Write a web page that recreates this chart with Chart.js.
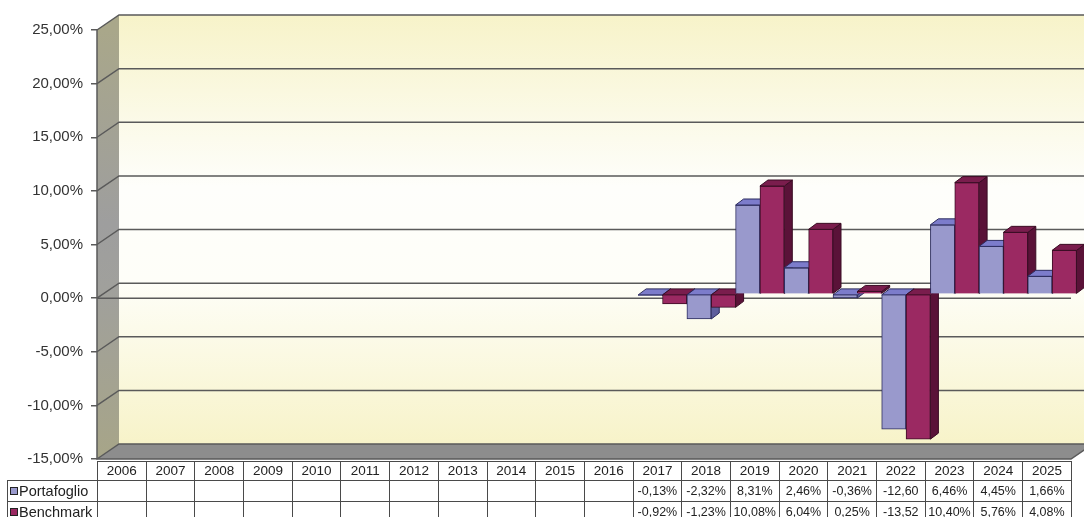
<!DOCTYPE html>
<html><head><meta charset="utf-8">
<script src="https://cdn.jsdelivr.net/npm/chart.js@4.4.1/dist/chart.umd.min.js"></script>
<style>
html,body{margin:0;padding:0;background:#fff;}
#wrap{position:relative;width:1084px;height:517px;overflow:hidden;}
#c{position:absolute;left:0;top:0;}
#tbl{position:absolute;border-collapse:collapse;table-layout:fixed;font-family:"Liberation Sans",Arial,sans-serif;color:#222;}
#tbl td{border:1px solid #4a4a4a;text-align:center;padding:0;white-space:nowrap;overflow:hidden;line-height:1;}
#tbl td.blank{border-top:none;border-left:none;}
#tbl tr.head td{font-size:13.5px;}
#tbl tr.val td{font-size:12.5px;}
#tbl tr.val td.lab{text-align:left;font-size:14.5px;padding-left:2px;}
.key{display:inline-block;width:6px;height:6px;border:1px solid #222;margin-right:1px;vertical-align:1px;}
</style></head>
<body><div id="wrap"><canvas id="c" width="1084" height="517"></canvas><table id="tbl"></table></div>
<script>
const years = ['2006','2007','2008','2009','2010','2011','2012','2013','2014','2015','2016','2017','2018','2019','2020','2021','2022','2023','2024','2025'];
const seriesNames = ['Portafoglio','Benchmark'];
const portafoglio = [null,null,null,null,null,null,null,null,null,null,null,-0.13,-2.32,8.31,2.46,-0.36,-12.60,6.46,4.45,1.66];
const benchmark = [null,null,null,null,null,null,null,null,null,null,null,-0.92,-1.23,10.08,6.04,0.25,-13.52,10.40,5.76,4.08];
const yMin = -15, yMax = 25, yStep = 5;

const frontColors = ['#9999CC','#9B2962'];
const faceColors = [
  {top:'#7C7CCB', side:'#5E5E9C', edge:'#2C2C5E'},
  {top:'#7A1D4D', side:'#5A1238', edge:'#3A0D24'}
];

const fmtAxis = v => v.toFixed(2).replace('.', ',') + '%';
const fmtCell = v => {
  if (v == null) return '';
  let s = v.toFixed(2).replace('.', ',') + '%';
  if (s.length > 6) s = s.slice(0, -1); // does not fit the cell, like the original
  return s;
};

const DX = 22, DY = -15;   // depth of walls
const BX = 5.5, BY = -4;   // bar row depth offset
const BDX = 8, BDY = -6;   // bar thickness

const threeD = {
  id: 'threeD',
  beforeDatasetsDraw(chart) {
    const ctx = chart.ctx;
    const {left: L, right: R, top: T, bottom: B} = chart.chartArea;
    const ys = chart.scales.y;
    ctx.save();
    // back wall
    let g = ctx.createLinearGradient(0, T + DY, 0, B + DY);
    g.addColorStop(0, '#F7F3C9');
    g.addColorStop(0.40, '#FEFEFB');
    g.addColorStop(0.62, '#FEFEF8');
    g.addColorStop(1, '#F7F3C9');
    ctx.fillStyle = g;
    ctx.fillRect(L + DX, T + DY, R - L, B - T);
    // side wall
    g = ctx.createLinearGradient(0, T, 0, B);
    g.addColorStop(0, '#A9A78A');
    g.addColorStop(0.45, '#9E9E9E');
    g.addColorStop(0.6, '#A0A09C');
    g.addColorStop(1, '#A7A588');
    ctx.fillStyle = g;
    ctx.beginPath();
    ctx.moveTo(L, T); ctx.lineTo(L + DX, T + DY); ctx.lineTo(L + DX, B + DY); ctx.lineTo(L, B); ctx.closePath();
    ctx.fill();
    // floor
    ctx.fillStyle = '#8D8D8D';
    ctx.beginPath();
    ctx.moveTo(L, B); ctx.lineTo(L + DX, B + DY); ctx.lineTo(R + DX, B + DY); ctx.lineTo(R, B); ctx.closePath();
    ctx.fill();
    // gridlines
    ctx.strokeStyle = '#5A5A5A';
    ctx.lineWidth = 1.5;
    ys.ticks.forEach(t => {
      const y = ys.getPixelForValue(t.value);
      ctx.beginPath();
      ctx.moveTo(L, y); ctx.lineTo(L + DX, y + DY); ctx.lineTo(R + DX, y + DY);
      ctx.stroke();
    });
    // front left edge & floor front edge
    ctx.beginPath(); ctx.moveTo(L, T); ctx.lineTo(L, B); ctx.lineTo(R, B); ctx.lineTo(R + DX, B + DY); ctx.stroke();
    // front zero line
    const y0 = ys.getPixelForValue(0);
    ctx.beginPath(); ctx.moveTo(L, y0); ctx.lineTo(R, y0); ctx.stroke();

    // bars (front face by Chart.js element, plus top & side faces)
    ctx.translate(BX, BY);
    const n = chart.data.labels.length;
    for (let i = 0; i < n; i++) {
      chart.data.datasets.forEach((ds, di) => {
        const v = ds.data[i];
        if (v == null) return;
        const el = chart.getDatasetMeta(di).data[i];
        el.draw(ctx);
        const {x, y, base, width} = el.getProps(['x', 'y', 'base', 'width'], true);
        const xl = x - width / 2, xr = x + width / 2;
        const top = Math.min(y, base), bot = Math.max(y, base);
        const c = faceColors[di];
        ctx.lineWidth = 1;
        ctx.strokeStyle = c.edge;
        // side face
        ctx.beginPath();
        ctx.moveTo(xr, top); ctx.lineTo(xr + BDX, top + BDY); ctx.lineTo(xr + BDX, bot + BDY); ctx.lineTo(xr, bot); ctx.closePath();
        ctx.fillStyle = c.side; ctx.fill(); ctx.stroke();
        // top face
        ctx.beginPath();
        ctx.moveTo(xl, top); ctx.lineTo(xr, top); ctx.lineTo(xr + BDX, top + BDY); ctx.lineTo(xl + BDX, top + BDY); ctx.closePath();
        ctx.fillStyle = c.top; ctx.fill(); ctx.stroke();
      });
    }
    ctx.restore();
    return false;
  }
};

const chart = new Chart(document.getElementById('c'), {
  type: 'bar',
  data: {
    labels: years,
    datasets: [
      {label: seriesNames[0], data: portafoglio, backgroundColor: frontColors[0], borderColor: faceColors[0].edge, borderWidth: 1},
      {label: seriesNames[1], data: benchmark, backgroundColor: frontColors[1], borderColor: faceColors[1].edge, borderWidth: 1}
    ]
  },
  options: {
    responsive: false,
    animation: false,
    devicePixelRatio: 1,
    datasets: {bar: {categoryPercentage: 1.0, barPercentage: 1.0}},
    layout: {padding: {left: 0, top: 30, right: 13, bottom: 58}},
    plugins: {legend: {display: false}, tooltip: {enabled: false}},
    scales: {
      x: {display: false},
      y: {
        min: yMin, max: yMax,
        afterFit: s => { s.width = 97; },
        border: {display: false},
        grid: {drawOnChartArea: false, drawTicks: true, tickLength: 6, color: '#5A5A5A', lineWidth: 1.5},
        ticks: {stepSize: yStep, padding: 8, color: '#333', font: {family: '"Liberation Sans", Arial, sans-serif', size: 15}, callback: v => fmtAxis(v)}
      }
    }
  },
  plugins: [threeD]
});

// data table under the chart, aligned to the category axis
(function buildTable() {
  const ca = chart.chartArea;
  const xs = chart.scales.x;
  const colW = xs.getPixelForValue(1) - xs.getPixelForValue(0);
  const tableLeft = 7;
  const tbl = document.getElementById('tbl');
  tbl.style.left = tableLeft + 'px';
  tbl.style.top = (ca.bottom + 2) + 'px';
  tbl.style.width = (ca.right - tableLeft) + 'px';
  let html = '<colgroup><col style="width:' + (ca.left - tableLeft) + 'px">';
  years.forEach(() => { html += '<col style="width:' + colW + 'px">'; });
  html += '</colgroup>';
  html += '<tr class="head" style="height:19px"><td class="blank"></td>' + years.map(y => '<td>' + y + '</td>').join('') + '</tr>';
  const series = [portafoglio, benchmark];
  series.forEach((s, si) => {
    html += '<tr class="val" style="height:21px"><td class="lab"><span class="key" style="background:' + frontColors[si] + '"></span>' + seriesNames[si] + '</td>' +
      s.map(v => '<td>' + fmtCell(v) + '</td>').join('') + '</tr>';
  });
  tbl.innerHTML = html;
})();
</script>
</body></html>
